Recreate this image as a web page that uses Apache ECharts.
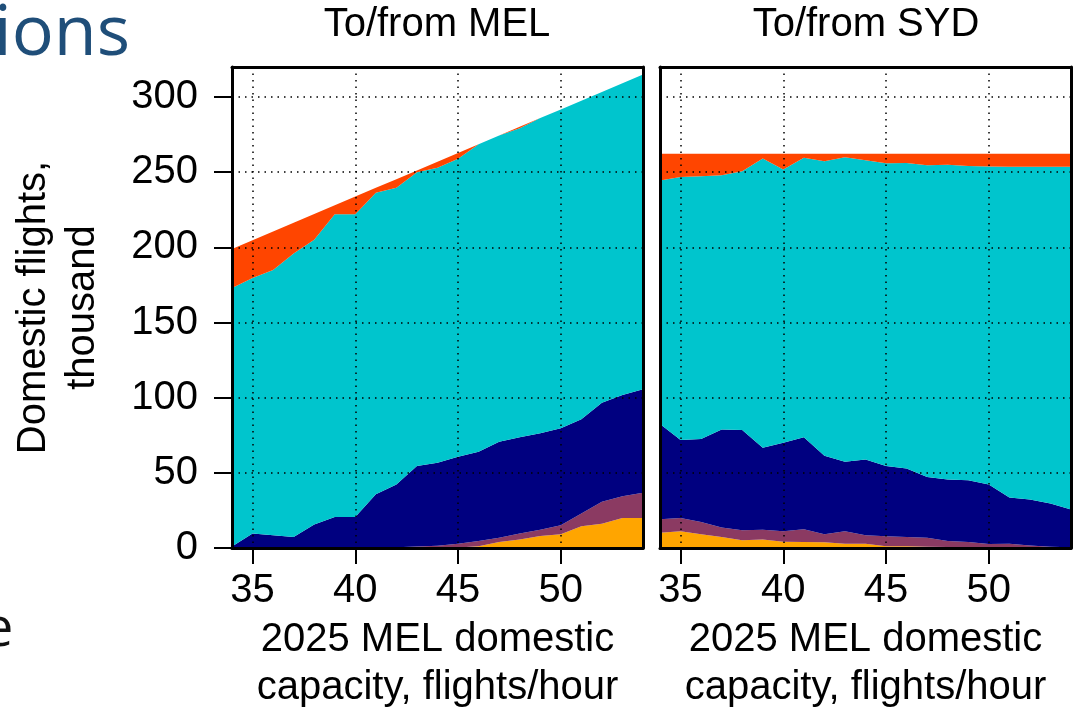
<!DOCTYPE html>
<html>
<head>
<meta charset="utf-8">
<script src="https://cdn.jsdelivr.net/npm/echarts@6/dist/echarts.min.js"></script>
<style>
  html, body { margin: 0; padding: 0; background: #fff; }
  #chart { width: 1073px; height: 708px; }
</style>
</head>
<body>
<div id="chart"></div>
<script>
// 2025 MEL domestic capacity scenarios, flights/hour
const capacity = ['34','35','36','37','38','39','40','41','42','43','44','45','46','47','48','49','50','51','52','53','54'];
const xTickLabels = ['35','40','45','50'];
const yTickValues = [0, 50, 100, 150, 200, 250, 300];

// Domestic flights to/from MEL, thousand (stack order: bottom to top)
const melOrange = [0,0,0,0,0,0,0,0,0,0,0,0.3,1.2,4,5.6,8,9.1,14.5,16.2,20,20];
const melPurple = [0,0,0,0,0,0,0,0,0.5,1,1.5,2.6,3.5,2.9,4,4.2,6,8.4,14.5,14.5,16.7];
const melNavy   = [1,9.6,8.5,7.3,15.6,20.7,20.7,35.8,41.7,53.5,55.2,57.8,59.3,63.8,64,64.1,64.5,62.7,66,67.3,68.9];
const melCyan   = [172,170,176.5,188.7,189.4,201.3,201.3,200.5,197.4,195.5,196.3,198.3,204.6,203.7,205.6,209.7,212.2,212,206.7,207.4,209.4];
const melRed    = [26,25.2,25.6,20.4,17.2,6,11.8,3.3,5.8,1.2,4,3.8,0,0,1,0,0,0,0,0,0];

// Domestic flights to/from SYD, thousand (stack order: bottom to top)
const sydOrange = [10.2,11.1,9.1,7.3,5.1,5.6,4.2,4,3.8,2.9,2.9,1.1,1.1,0.9,0.6,0.6,0.4,0.2,0,0,0];
const sydPurple = [8.9,8.9,8.2,6.3,6.7,6.6,6.9,8.5,5.3,8.2,5.6,6.7,6.2,6,4.1,3.4,2.3,2.7,1.6,0.9,0.5];
const sydNavy   = [63.4,51.8,55.2,65.3,66.7,54.5,58.9,61.1,52.2,46.2,50.4,46.7,45.6,40.4,40.9,41.1,39.5,30.7,30.6,28.7,25.1];
const sydCyan   = [162,175.1,174.9,169.1,172.2,192.4,181.8,186,196,202.7,199.1,201.5,203.3,207.4,209.3,209.1,211.6,220,221.4,224,228];
const sydRed    = [17.8,15.4,14.9,14.3,11.6,3.2,10.5,2.7,5,2.3,4.3,6.3,6.1,7.6,7.4,8.1,8.5,8.7,8.7,8.7,8.7];

const bandColors = ['#FFA500', '#8B3A62', '#000080', '#00C5CD', '#FF4500'];
const FONT = "'Liberation Sans', Arial, Helvetica, sans-serif";
const FS = 40;
const dotted = { color: '#000', width: 1.5, type: [1.5, 5] };
const isTick = (i, v) => xTickLabels.indexOf(String(v)) >= 0;
const xName = '2025 MEL domestic\ncapacity, flights/hour';

function bottomX(gridIndex) {
  return {
    type: 'category', gridIndex, data: capacity, boundaryGap: false, position: 'bottom', z: 10,
    axisLine: { show: true, onZero: false, lineStyle: { color: '#000', width: 3 } },
    axisTick: { show: true, length: 16, interval: isTick, lineStyle: { color: '#000', width: 2 } },
    axisLabel: { show: true, interval: isTick, margin: 23, fontSize: FS, fontFamily: FONT, color: '#000' },
    splitLine: { show: true, interval: isTick, lineStyle: dotted },
    name: xName, nameLocation: 'middle', nameGap: 68,
    nameTextStyle: { fontSize: FS, fontFamily: FONT, color: '#000', lineHeight: 48 }
  };
}
function topX(gridIndex) {
  return {
    type: 'category', gridIndex, data: capacity, boundaryGap: false, position: 'top', z: 10,
    axisLine: { show: true, onZero: false, lineStyle: { color: '#000', width: 3 } },
    axisTick: { show: false }, axisLabel: { show: false }, splitLine: { show: false }
  };
}
function leftY(gridIndex, labelled) {
  const ax = {
    type: 'value', gridIndex, min: 0, max: 320, interval: 50, position: 'left', z: 10,
    axisLine: { show: true, onZero: false, lineStyle: { color: '#000', width: 3 } },
    axisTick: { show: labelled, length: 18, customValues: yTickValues, lineStyle: { color: '#000', width: 2 } },
    axisLabel: {
      show: labelled, customValues: yTickValues, margin: 34, fontSize: FS, fontFamily: FONT, color: '#000',
      formatter: v => (v % 50 === 0 ? String(v) : '')
    },
    splitLine: { show: true, lineStyle: dotted }
  };
  if (labelled) {
    Object.assign(ax, {
      name: 'Domestic flights,\nthousand', nameLocation: 'middle', nameGap: 125, nameRotate: 90,
      nameTextStyle: { fontSize: FS, fontFamily: FONT, color: '#000', lineHeight: 49 }
    });
  }
  return ax;
}
function rightY(gridIndex) {
  return {
    type: 'value', gridIndex, min: 0, max: 320, position: 'right', z: 10,
    axisLine: { show: true, onZero: false, lineStyle: { color: '#000', width: 3 } },
    axisTick: { show: false }, axisLabel: { show: false }, splitLine: { show: false }
  };
}
function bands(panel, axisIndex, values) {
  return values.map((data, k) => ({
    type: 'line', name: panel + k, stack: panel, data,
    xAxisIndex: axisIndex, yAxisIndex: axisIndex,
    showSymbol: false, smooth: false, silent: true,
    lineStyle: { width: 0, opacity: 0 },
    areaStyle: { color: bandColors[k], opacity: 1 },
    z: 2
  }));
}

const chart = echarts.init(document.getElementById('chart'), null, { renderer: 'canvas' });
chart.setOption({
  animation: false,
  backgroundColor: '#fff',
  grid: [
    { left: 232, top: 67, width: 411, height: 481, outerBoundsMode: 'none', containLabel: false },
    { left: 660, top: 67, width: 411, height: 481, outerBoundsMode: 'none', containLabel: false }
  ],
  xAxis: [bottomX(0), bottomX(1), topX(0), topX(1)],
  yAxis: [leftY(0, true), leftY(1, false), rightY(0), rightY(1)],
  series: [
    ...bands('mel', 0, [melOrange, melPurple, melNavy, melCyan, melRed]),
    ...bands('syd', 1, [sydOrange, sydPurple, sydNavy, sydCyan, sydRed])
  ],
  graphic: [
    { type: 'text', x: 437, y: 25, style: { text: 'To/from MEL', font: FS + 'px ' + FONT, fill: '#000', align: 'center', verticalAlign: 'middle' } },
    { type: 'text', x: 866, y: 25, style: { text: 'To/from SYD', font: FS + 'px ' + FONT, fill: '#000', align: 'center', verticalAlign: 'middle' } },
    { type: 'text', x: -6, y: 0, style: { text: 'ions', font: "70px 'Open Sans', sans-serif", fill: '#1F4E79', align: 'left', verticalAlign: 'top' } },
    { type: 'text', x: -17, y: 604, style: { text: 'e', font: "54px 'Open Sans', sans-serif", fill: '#111', align: 'left', verticalAlign: 'top' } }
  ]
});
</script>
</body>
</html>
